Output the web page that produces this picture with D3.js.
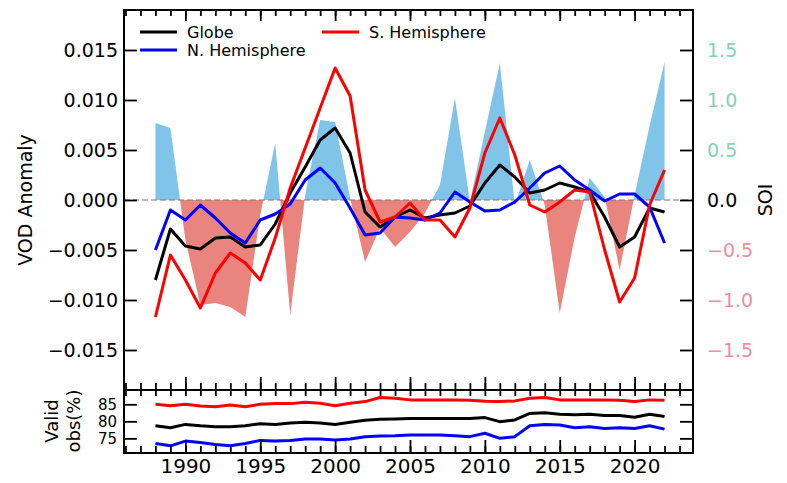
<!DOCTYPE html>
<html>
<head>
  <meta charset="utf-8">
  <script src="https://cdnjs.cloudflare.com/ajax/libs/d3/7.8.5/d3.min.js"></script>
  <style>
    body { margin: 0; background: #fff; }
    svg text { font-family: "DejaVu Sans", sans-serif; }
  </style>
</head>
<body>
  <svg id="chart" width="787" height="483"></svg>
  <script>
    // years of the record
    const years = [1988, 1989, 1990, 1991, 1992, 1993, 1994, 1995, 1996, 1997,
                   1998, 1999, 2000, 2001, 2002, 2003, 2004, 2005, 2006, 2007,
                   2008, 2009, 2010, 2011, 2012, 2013, 2014, 2015, 2016, 2017,
                   2018, 2019, 2020, 2021, 2022];

    // VOD anomaly
    const globe = [-0.0080, -0.0029, -0.0046, -0.0049, -0.0038, -0.0037, -0.0047, -0.0045, -0.0024, 0.0007,
                   0.0033, 0.0060, 0.0072, 0.0047, -0.0012, -0.0027, -0.0017, -0.0010, -0.0018, -0.0015,
                   -0.0013, -0.0006, 0.0017, 0.0035, 0.0023, 0.0007, 0.0010, 0.0017, 0.0013, 0.0008,
                   -0.0017, -0.0047, -0.0037, -0.0008, -0.0012];
    const nHem = [-0.0050, -0.0010, -0.0020, -0.0005, -0.0018, -0.0033, -0.0043, -0.0020, -0.0014, -0.0004,
                  0.0020, 0.0032, 0.0017, -0.0008, -0.0035, -0.0033, -0.0017, -0.0018, -0.0020, -0.0013,
                  0.0008, -0.0002, -0.0011, -0.0010, -0.0002, 0.0012, 0.0027, 0.0034, 0.0020, 0.0010,
                  -0.0001, 0.0006, 0.0006, -0.0007, -0.0043];
    const sHem = [-0.0117, -0.0055, -0.0080, -0.0108, -0.0073, -0.0053, -0.0063, -0.0080, -0.0038, 0.0012,
                  0.0052, 0.0092, 0.0132, 0.0104, 0.0010, -0.0022, -0.0017, -0.0003, -0.0020, -0.0020,
                  -0.0037, -0.0008, 0.0047, 0.0082, 0.0045, -0.0005, -0.0012, -0.0002, 0.0010, 0.0008,
                  -0.0050, -0.0102, -0.0078, -0.0005, 0.0030];

    // Southern Oscillation Index
    const soi = [0.77, 0.72, -0.40, -1.05, -1.03, -1.07, -1.17, -0.15, 0.57, -1.15,
                 0.05, 0.80, 0.78, 0.02, -0.62, -0.28, -0.47, -0.32, -0.13, 0.15,
                 1.02, -0.02, 0.68, 1.37, -0.05, 0.40, -0.05, -1.13, -0.37, 0.22,
                 0.03, -0.70, 0.05, 0.74, 1.38];

    // valid observations (%)
    const obsGlobe = [78.7, 78.1, 79.1, 78.7, 78.4, 78.4, 78.7, 79.3, 79.1, 79.5,
                      79.7, 79.5, 79.1, 79.7, 80.3, 80.6, 80.7, 80.8, 80.8, 80.8,
                      80.8, 80.8, 81.1, 79.9, 80.4, 82.3, 82.5, 82.1, 81.9, 82.1,
                      81.7, 81.7, 81.2, 82.1, 81.4];
    const obsN = [73.5, 72.8, 74.2, 73.8, 73.2, 72.8, 73.5, 74.4, 74.2, 74.4,
                  74.8, 74.8, 74.5, 74.8, 75.5, 75.7, 75.8, 76.0, 76.0, 76.0,
                  75.8, 75.5, 76.5, 75.0, 75.5, 78.7, 79.1, 78.9, 78.1, 78.4,
                  77.9, 78.1, 77.9, 78.7, 77.7];
    const obsS = [85.0, 84.6, 85.0, 84.5, 84.3, 84.8, 84.3, 85.0, 85.2, 85.2,
                  85.6, 85.3, 84.6, 85.3, 85.8, 87.0, 86.8, 86.3, 86.3, 86.3,
                  86.3, 86.2, 85.9, 85.8, 86.0, 86.8, 87.0, 86.3, 86.3, 86.3,
                  86.3, 86.2, 85.8, 86.3, 86.2];

    const vodTicks = [-0.015, -0.010, -0.005, 0.000, 0.005, 0.010, 0.015];
    const soiTicks = [-1.5, -1.0, -0.5, 0.0, 0.5, 1.0, 1.5];
    const obsTicks = [75, 80, 85];
    const yearTicks = [1990, 1995, 2000, 2005, 2010, 2015, 2020];
    const minorYears = d3.range(1986, 2024);

    const series = [
      { name: "Globe", vod: globe, obs: obsGlobe, color: "#000000" },
      { name: "N. Hemisphere", vod: nHem, obs: obsN, color: "#0000ff" },
      { name: "S. Hemisphere", vod: sHem, obs: obsS, color: "#ff0000" }
    ];

    const L = 124, R = 693, T = 10, MB = 390, BB = 453;
    const svg = d3.select("#chart");

    const x = d3.scaleLinear().domain([1985.9, 2023.9]).range([L, R]);
    const y = d3.scaleLinear().domain([-0.019, 0.019]).range([MB, T]);
    const ySoi = d3.scaleLinear().domain([-1.9, 1.9]).range([MB, T]);
    const yObs = d3.scaleLinear().domain([70.7, 89.2]).range([BB, MB]);

    // clip regions above / below zero
    const defs = svg.append("defs");
    defs.append("clipPath").attr("id", "pos").append("rect")
      .attr("x", L).attr("y", T).attr("width", R - L).attr("height", ySoi(0) - T);
    defs.append("clipPath").attr("id", "neg").append("rect")
      .attr("x", L).attr("y", ySoi(0)).attr("width", R - L).attr("height", MB - ySoi(0));

    const soiArea = d3.area()
      .x((d, i) => x(years[i]))
      .y0(ySoi(0))
      .y1(d => ySoi(d));

    svg.append("path").datum(soi).attr("d", soiArea)
      .attr("fill", "#80c4ea").attr("clip-path", "url(#pos)");
    svg.append("path").datum(soi).attr("d", soiArea)
      .attr("fill", "#e9847e").attr("clip-path", "url(#neg)");

    // zero line
    svg.append("line")
      .attr("x1", L).attr("x2", R).attr("y1", y(0)).attr("y2", y(0))
      .attr("stroke", "#777").attr("stroke-width", 1.2).attr("stroke-dasharray", "6,3");

    const vodLine = d3.line().x((d, i) => x(years[i])).y(d => y(d));
    const obsLine = d3.line().x((d, i) => x(years[i])).y(d => yObs(d));

    series.forEach(s => {
      svg.append("path").datum(s.vod).attr("d", vodLine)
        .attr("fill", "none").attr("stroke", s.color).attr("stroke-width", 3)
        .attr("stroke-linejoin", "round");
      svg.append("path").datum(s.obs).attr("d", obsLine)
        .attr("fill", "none").attr("stroke", s.color).attr("stroke-width", 3)
        .attr("stroke-linejoin", "round");
    });

    // helper to strip domain and style ticks
    function style(g) {
      g.select(".domain").remove();
      g.selectAll(".tick line").attr("stroke", "#000").attr("stroke-width", 1.8);
      g.selectAll("text").attr("fill", "#000");
    }

    // main panel: left axis
    svg.append("g").attr("transform", `translate(${L},0)`)
      .call(d3.axisLeft(y).tickValues(vodTicks).tickSize(-13).tickPadding(6)
        .tickFormat(d3.format(".3f")))
      .call(style)
      .selectAll("text").attr("font-size", 19);

    // main panel: right SOI axis
    const rightAx = svg.append("g").attr("transform", `translate(${R},0)`)
      .call(d3.axisRight(ySoi).tickValues(soiTicks).tickSize(-13).tickPadding(14)
        .tickFormat(d3.format(".1f")))
      .call(style);
    rightAx.selectAll("text").attr("font-size", 19)
      .attr("fill", d => d > 0 ? "#86d1b4" : d < 0 ? "#ec8fa0" : "#000");

    // main panel: top ticks
    svg.append("g").attr("transform", `translate(0,${T})`)
      .call(d3.axisBottom(x).tickValues(minorYears).tickSize(6).tickFormat(""))
      .call(style);
    svg.append("g").attr("transform", `translate(0,${T})`)
      .call(d3.axisBottom(x).tickValues(yearTicks).tickSize(11).tickFormat(""))
      .call(style);

    // main panel: bottom ticks (pointing up)
    svg.append("g").attr("transform", `translate(0,${MB})`)
      .call(d3.axisTop(x).tickValues(minorYears).tickSize(7).tickFormat(""))
      .call(style);
    svg.append("g").attr("transform", `translate(0,${MB})`)
      .call(d3.axisTop(x).tickValues(yearTicks).tickSize(13).tickFormat(""))
      .call(style);

    // lower panel: top ticks (pointing down)
    svg.append("g").attr("transform", `translate(0,${MB})`)
      .call(d3.axisBottom(x).tickValues(minorYears).tickSize(6).tickFormat(""))
      .call(style);

    // lower panel: bottom ticks + year labels
    svg.append("g").attr("transform", `translate(0,${BB})`)
      .call(d3.axisTop(x).tickValues(minorYears).tickSize(7).tickFormat(""))
      .call(style);
    svg.append("g").attr("transform", `translate(0,${BB})`)
      .call(d3.axisTop(x).tickValues(yearTicks).tickSize(13).tickFormat(""))
      .call(style);
    svg.append("g").attr("transform", `translate(0,${BB})`)
      .call(d3.axisBottom(x).tickValues(yearTicks).tickSize(0).tickPadding(6)
        .tickFormat(d3.format("d")))
      .call(style)
      .selectAll("text").attr("font-size", 20);

    // lower panel: y axes
    svg.append("g").attr("transform", `translate(${L},0)`)
      .call(d3.axisLeft(yObs).tickValues(obsTicks).tickSize(-13).tickPadding(7))
      .call(style)
      .selectAll("text").attr("font-size", 15);
    svg.append("g").attr("transform", `translate(${R},0)`)
      .call(d3.axisRight(yObs).tickValues(obsTicks).tickSize(-13).tickFormat(""))
      .call(style);

    // frames
    svg.append("rect").attr("x", L).attr("y", T).attr("width", R - L).attr("height", MB - T)
      .attr("fill", "none").attr("stroke", "#000").attr("stroke-width", 2);
    svg.append("rect").attr("x", L).attr("y", MB).attr("width", R - L).attr("height", BB - MB)
      .attr("fill", "none").attr("stroke", "#000").attr("stroke-width", 2);

    // axis titles
    svg.append("text").attr("transform", "translate(32,200) rotate(-90)")
      .attr("text-anchor", "middle").attr("font-size", 19).text("VOD  Anomaly");
    svg.append("text").attr("transform", "translate(772,200) rotate(-90)")
      .attr("text-anchor", "middle").attr("font-size", 19).text("SOI");
    svg.append("text").attr("transform", "translate(58,421) rotate(-90)")
      .attr("text-anchor", "middle").attr("font-size", 18).text("Valid");
    svg.append("text").attr("transform", "translate(80,421) rotate(-90)")
      .attr("text-anchor", "middle").attr("font-size", 18).text("obs(%)");

    // legend
    const legendPos = [
      { lx: 140, ly: 32 },
      { lx: 140, ly: 50 },
      { lx: 322, ly: 32 }
    ];
    series.forEach((s, i) => {
      const p = legendPos[i];
      const g = svg.append("g");
      g.append("line").attr("x1", p.lx).attr("x2", p.lx + 37)
        .attr("y1", p.ly).attr("y2", p.ly)
        .attr("stroke", s.color).attr("stroke-width", 3);
      g.append("text").attr("x", p.lx + 47).attr("y", p.ly + 6)
        .attr("font-size", 16).text(s.name);
    });
  </script>
</body>
</html>
